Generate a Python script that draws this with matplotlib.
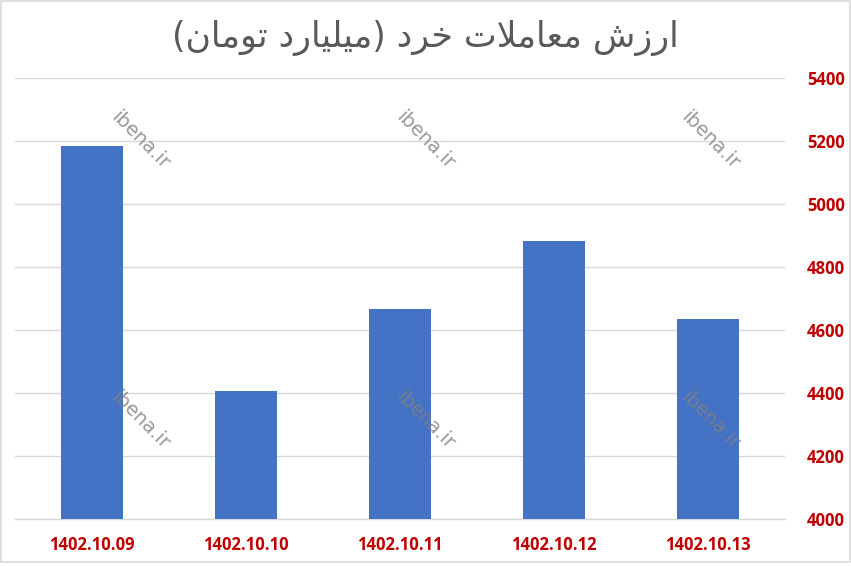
import matplotlib
matplotlib.use("Agg")
import matplotlib.pyplot as plt
from matplotlib.patches import Rectangle
import numpy as np

dates = ["1402.10.09", "1402.10.10", "1402.10.11", "1402.10.12", "1402.10.13"]
values = [5184, 4406, 4667, 4882, 4635]
yticks = [4000, 4200, 4400, 4600, 4800, 5000, 5200, 5400]
title = "ارزش معاملات خرد (میلیارد تومان)"
watermark = "ibena.ir"

BAR_COLOR = "#4472C4"
RED = "#C00000"
GRID = "#D9D9D9"

# minimal arabic shaping (matplotlib has no text shaping)
FORMS = {
    "ا": ("\uFE8D", "\uFE8E", None, None),
    "ر": ("\uFEAD", "\uFEAE", None, None),
    "ز": ("\uFEAF", "\uFEB0", None, None),
    "د": ("\uFEA9", "\uFEAA", None, None),
    "و": ("\uFEED", "\uFEEE", None, None),
    "ش": ("\uFEB5", "\uFEB6", "\uFEB7", "\uFEB8"),
    "م": ("\uFEE1", "\uFEE2", "\uFEE3", "\uFEE4"),
    "ع": ("\uFEC9", "\uFECA", "\uFECB", "\uFECC"),
    "ل": ("\uFEDD", "\uFEDE", "\uFEDF", "\uFEE0"),
    "ت": ("\uFE95", "\uFE96", "\uFE97", "\uFE98"),
    "خ": ("\uFEA5", "\uFEA6", "\uFEA7", "\uFEA8"),
    "ن": ("\uFEE5", "\uFEE6", "\uFEE7", "\uFEE8"),
    "ی": ("\uFBFC", "\uFBFD", "\uFEF3", "\uFEF4"),
}


def shape(text):
    chars = list(text)
    # lam-alef ligature
    merged = []
    i = 0
    while i < len(chars):
        if chars[i] == "ل" and i + 1 < len(chars) and chars[i + 1] == "ا":
            merged.append("LA")
            i += 2
        else:
            merged.append(chars[i])
            i += 1

    def joins_next(c):
        return c in FORMS and FORMS[c][2] is not None

    def is_letter(c):
        return c in FORMS or c == "LA"

    out = []
    for k, c in enumerate(merged):
        prev_j = k > 0 and joins_next(merged[k - 1])
        if c == "LA":
            out.append("\uFEFC" if prev_j else "\uFEFB")
            continue
        if c not in FORMS:
            out.append(c)
            continue
        nxt = merged[k + 1] if k + 1 < len(merged) else ""
        next_j = joins_next(c) and is_letter(nxt)
        iso, fin, ini, med = FORMS[c]
        if prev_j and next_j:
            out.append(med)
        elif prev_j:
            out.append(fin)
        elif next_j:
            out.append(ini)
        else:
            out.append(iso)
    vis = "".join(out)[::-1]
    return vis.translate(str.maketrans("()", ")("))


fig = plt.figure(figsize=(8.51, 5.66), dpi=100)
ax = fig.add_axes([15 / 851, 1 - 519 / 566, 770 / 851, 441 / 566])

x = np.arange(len(dates))
ax.bar(x, values, width=0.40, color=BAR_COLOR, zorder=3)

ax.set_xlim(-0.5, len(dates) - 0.5)
ax.set_ylim(4000, 5400)
ax.set_yticks(yticks)
ax.yaxis.tick_right()
ax.set_yticklabels([str(t) for t in yticks], fontfamily="Open Sans",
                   fontweight="bold", fontsize=12, color=RED)
ax.set_xticks(x)
ax.set_xticklabels(dates, fontfamily="Open Sans", fontweight="bold",
                   fontsize=12, color=RED)
ax.tick_params(axis="y", length=0, pad=16)
ax.tick_params(axis="x", length=0, pad=12)
ax.grid(axis="y", color=GRID, linewidth=1, zorder=0)
for s in ["top", "left", "right"]:
    ax.spines[s].set_visible(False)
ax.spines["bottom"].set_color(GRID)
ax.spines["bottom"].set_linewidth(1)

fig.text(0.5, 1 - 38 / 566, shape(title), ha="center", va="center",
         fontsize=25, color="#595959", family=["DejaVu Sans"])

for wx in [140, 425, 710]:
    for wy in [140, 420]:
        fig.text(wx / 851, 1 - wy / 566, watermark, rotation=-45,
                 ha="center", va="center", fontsize=14, color="#808080",
                 alpha=0.8, zorder=5)

fig.patches.append(Rectangle((0.5 / 851, 1 - 562 / 566), 849 / 851, 561 / 566,
                             transform=fig.transFigure, fill=False,
                             edgecolor="#D9D9D9", linewidth=1.2))

fig.savefig("out.png", dpi=100)
